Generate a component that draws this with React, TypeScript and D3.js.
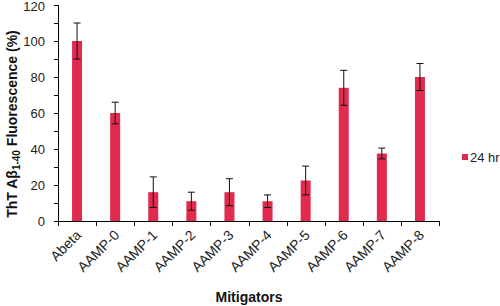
import React from "react";
import * as d3 from "d3";

const categories = ["Abeta", "AAMP-0", "AAMP-1", "AAMP-2", "AAMP-3", "AAMP-4", "AAMP-5", "AAMP-6", "AAMP-7", "AAMP-8"];
const values = [100, 60, 16, 11, 16, 11, 22.5, 74, 37.5, 80];
const errors = [10, 6, 8.5, 5, 7.5, 3.5, 8, 9.7, 3, 7.5];
const yTicks = [0, 20, 40, 60, 80, 100, 120];
const yMinorTicks = [10, 30, 50, 70, 90, 110];
const seriesName = "24 hr";

const W = 500, H = 306;
const left = 58, right = 439, top = 5, bottom = 221;
const barColor = "#e02a4e";
const font = "'Liberation Sans', Arial, sans-serif";

export default function App() {
  const x = d3.scaleBand<string>().domain(categories).range([left, right]).padding(0);
  const y = d3.scaleLinear().domain([0, 120]).range([bottom, top]);
  const bw = 10;
  const cap = 3.5;
  return (
    <svg width={W} height={H} style={{ position: "absolute", left: 0, top: 0, background: "#fff" }} fontFamily={font}>
      {/* bars */}
      {categories.map((c, i) => {
        const cx = x(c)! + x.bandwidth() / 2;
        return (
          <g key={c}>
            <rect x={cx - bw / 2} y={y(values[i])} width={bw} height={y(0) - y(values[i])} fill={barColor} />
            <line x1={cx} x2={cx} y1={y(values[i] + errors[i])} y2={y(values[i] - errors[i])} stroke="#111" strokeWidth={1} />
            <line x1={cx - cap} x2={cx + cap} y1={y(values[i] + errors[i])} y2={y(values[i] + errors[i])} stroke="#111" strokeWidth={1} />
            <line x1={cx - cap} x2={cx + cap} y1={y(values[i] - errors[i])} y2={y(values[i] - errors[i])} stroke="#111" strokeWidth={1} />
          </g>
        );
      })}
      {/* y axis */}
      <line x1={left + 0.5} x2={left + 0.5} y1={top} y2={bottom} stroke="#000" />
      {[...yTicks, ...yMinorTicks].map((t) => (
        <line key={"t" + t} x1={left - 4} x2={left} y1={Math.round(y(t)) + 0.5} y2={Math.round(y(t)) + 0.5} stroke="#000" />
      ))}
      {yTicks.map((t) => (
        <text key={"l" + t} x={left - 13} y={Math.max(y(t), 6.5)} dy="0.36em" textAnchor="end" fontSize={13} fill="#222">{t}</text>
      ))}
      {/* x axis */}
      <line x1={left} x2={right} y1={bottom + 0.5} y2={bottom + 0.5} stroke="#000" />
      {[...categories.map((c) => x(c)!), right].map((v, i) => (
        <line key={"xt" + i} x1={Math.round(v) + 0.5} x2={Math.round(v) + 0.5} y1={bottom} y2={bottom + 5} stroke="#000" />
      ))}
      {categories.map((c) => {
        const cx = x(c)! + x.bandwidth() / 2 + 5;
        const ty = bottom + 15;
        return (
          <text key={"xl" + c} x={cx} y={ty} textAnchor="end" fontSize={14} fill="#222" transform={`rotate(-45 ${cx} ${ty})`}>{c}</text>
        );
      })}
      {/* axis titles */}
      <text x={249} y={302} textAnchor="middle" fontSize={14} fontWeight="bold" fill="#111">Mitigators</text>
      <text transform="translate(17 124) rotate(-90)" textAnchor="middle" fontSize={14} fontWeight="bold" fill="#111">
        ThT Aβ<tspan fontSize={10} dy="3">1-40</tspan><tspan dy="-3"> Fluorescence (%)</tspan>
      </text>
      {/* legend */}
      <rect x={462} y={154} width={6} height={6} fill={barColor} />
      <text x={470} y={161.5} fontSize={13} fill="#222">{seriesName}</text>
    </svg>
  );
}
